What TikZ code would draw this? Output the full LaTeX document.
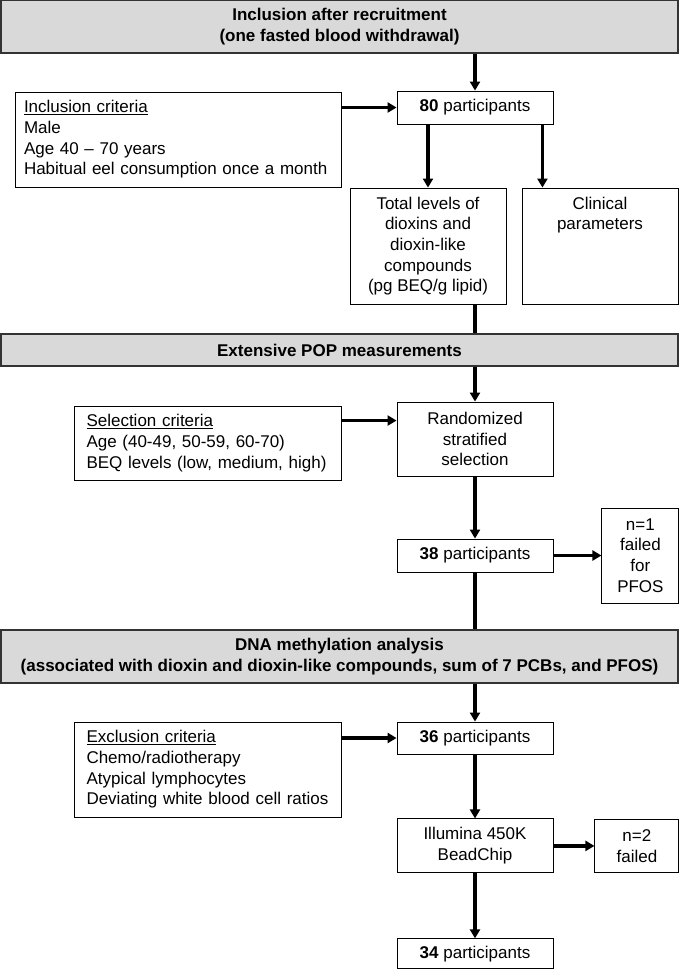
\documentclass[tikz,border=0pt]{standalone}
\usepackage{fontspec}
\setmainfont{Liberation Sans}
\usepackage{tikz}
\usetikzlibrary{positioning, arrows.meta, calc}
\definecolor{headgray}{rgb}{0.85,0.85,0.85}
\newcommand{\bodyfont}{\fontsize{17pt}{20.7pt}\selectfont}
\tikzstyle{hd}=[%
      rectangle, draw=black!80, line width=1.2pt, fill=headgray,
      font=\bodyfont\bfseries, minimum width=677pt, align=center, inner sep=0pt
]
\tikzstyle{bx}=[%
      rectangle, draw=black, line width=0.9pt, fill=white,
      minimum width=156pt, align=center, inner sep=0pt
]
\tikzstyle{crit}=[%
      rectangle, draw=black, line width=0.9pt, fill=white,
      align=left, inner xsep=12.5pt, inner ysep=0pt
]
\tikzstyle{lab}=[anchor=north, align=center, inner sep=0pt, yshift=-9pt]
\tikzstyle{arr}=[line width=3.2pt, -{Triangle[length=9pt,width=10pt]}]
\tikzstyle{ln}=[line width=3.2pt]

\begin{document}
\begin{tikzpicture}[x=1pt, y=-1pt, font=\bodyfont]
    \useasboundingbox (0,0) rectangle (679,970);

    % recruitment
    \node[hd, minimum height=52.5pt] (rec) at (339.5,26.75) {Inclusion after recruitment\\(one fasted blood withdrawal)};
    \node[crit, text width=308pt, inner xsep=9pt, minimum height=95pt] (incl) at (178,139.5) {\underline{Inclusion criteria}\\Male\\Age 40 – 70 years\\Habitual eel consumption once a month};
    \node[bx, minimum height=33pt] (p80) at (475,107.5) {{\bfseries 80} participants};
    \node[bx, minimum height=116pt] (tot) at (428,246) {Total levels of\\dioxins and\\dioxin-like\\compounds\\(pg BEQ/g lipid)};
    \node[bx, minimum height=116pt, label={[lab]north:Clinical\\parameters}] (clin) at (600,246) {};

    % POP measurements
    \node[hd, minimum height=32pt] (pop) at (339.5,350) {Extensive POP measurements};
    \node[crit, text width=242pt, minimum height=74pt] (sel) at (207.5,443) {\underline{Selection criteria}\\Age (40-49, 50-59, 60-70)\\BEQ levels (low, medium, high)};
    \node[bx, minimum height=74pt] (rand) at (475,439) {Randomized\\stratified\\selection};
    \node[bx, minimum height=33pt] (p38) at (475,555.5) {{\bfseries 38} participants};
    \node[bx, minimum width=77pt, minimum height=95pt] (f1) [right = 48pt of p38] {n=1\\failed\\for\\PFOS};

    % methylation
    \node[hd, minimum height=53pt] (dna) at (339.5,656.5) {DNA methylation analysis\\(associated with dioxin and dioxin-like compounds, sum of 7 PCBs, and PFOS)};
    \node[crit, text width=242pt, minimum height=95pt] (excl) at (207.5,769.5) {\underline{Exclusion criteria}\\Chemo/radiotherapy\\Atypical lymphocytes\\Deviating white blood cell ratios};
    \node[bx, minimum height=32pt] (p36) at (475,738) {{\bfseries 36} participants};
    \node[bx, minimum height=54pt] (chip) [below = 64pt of p36] {Illumina 450K\\BeadChip};
    \node[bx, minimum width=84pt, minimum height=53pt] (f2) [right = 41pt of chip] {n=2\\failed};
    \node[bx, minimum height=30pt] (p34) [below = 65pt of chip] {{\bfseries 34} participants};

    \draw[arr] (p80.north |- rec.south) -- (p80.north);
    \draw[arr] (incl.east |- p80.west) -- (p80.west);
    \draw[arr] (p80.south -| tot.north) -- (tot.north);
    \draw[arr] ([xshift=-11pt]p80.south east) -- ([xshift=-11pt]p80.south east |- clin.north);
    \draw[ln] (tot.south -| p80.south) -- (pop.north -| p80.south);
    \draw[arr] (pop.south -| rand.north) -- (rand.north);
    \draw[arr] ([yshift=-15pt]sel.north east) -- ([yshift=-15pt]sel.north east -| rand.west);
    \draw[arr] (rand) -- (p38);
    \draw[arr] (p38) -- (f1);
    \draw[ln] (p38.south) -- (p38.south |- dna.north);
    \draw[arr] (dna.south -| p36.north) -- (p36.north);
    \draw[arr] (excl.east |- p36.west) -- (p36.west);
    \draw[arr] (p36) -- (chip);
    \draw[arr] (chip) -- (f2);
    \draw[arr] (chip) -- (p34);
\end{tikzpicture}
\end{document}
